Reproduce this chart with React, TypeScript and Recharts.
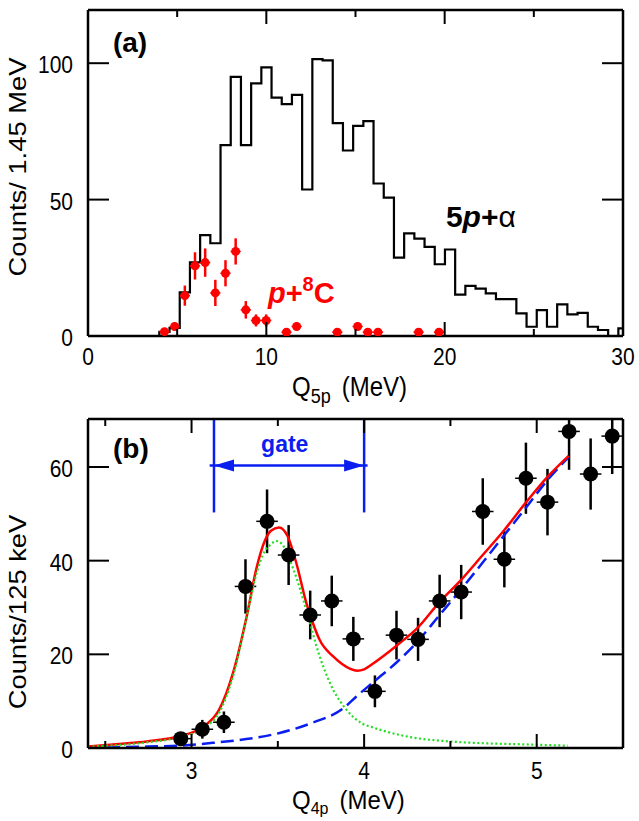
import React from 'react';
import {
  ComposedChart,
  Line,
  Scatter,
  XAxis,
  YAxis,
  ErrorBar,
  ReferenceLine,
  ReferenceDot,
} from 'recharts';

const FONT = '"Liberation Sans", Arial, Helvetica, sans-serif';
const STRETCH = 1.15;
const RED = '#ff0000';
const BLUE = '#0a1ef0';
const GREEN = '#22dd22';

// ---------- panel (a): Q5p spectrum ----------
const binStart = 4.0;
const binWidth = 0.572;
const histCounts = [
  1.5, 3, 16, 27, 37, 34, 70, 95, 70, 92.6, 98.5, 87.4, 85, 88.4, 53.7, 101.5,
  101, 78, 68, 77, 78.8, 55.9, 50.7, 28.7, 37.6, 35.7, 32.7, 26.3, 31.7, 15.2,
  18.4, 17.4, 15.6, 13.5, 13.5, 8.3, 3.4, 9.5, 3.4, 11.6, 7.9, 8.5, 3.4, 2.2, 0, 2.8,
];

const p8cX = [4.29, 4.86, 5.43, 6.0, 6.57, 7.14, 7.71, 8.28, 8.85, 9.42, 9.99, 11.13, 11.7, 13.98, 15.12, 15.69, 16.26, 18.54, 19.68];
const p8cY = [1.6, 3.5, 14.8, 25.7, 26.9, 15.8, 23.0, 31.0, 9.6, 5.7, 5.7, 1.4, 3.5, 1.4, 3.5, 1.4, 1.4, 1.4, 1.4];
const p8cErr = [1, 1.5, 3.7, 5.0, 5.2, 4.8, 4.8, 4.8, 3.2, 2.2, 2.2, 1, 1.5, 1, 1.5, 1, 1, 1, 1];

const aXTicks = [0, 5, 10, 15, 20, 25, 30];
const aXLabels = [0, 10, 20, 30];
const aYTicks = [0, 50, 100];
const aYMax = 119.5;

// ---------- panel (b): Q4p spectrum ----------
const q4pX = [2.9375, 3.0625, 3.1875, 3.3125, 3.4375, 3.5625, 3.6875, 3.8125, 3.9375, 4.0625, 4.1875, 4.3125, 4.4375, 4.5625, 4.6875, 4.8125, 4.9375, 5.0625, 5.1875, 5.3125, 5.4375];
const q4pY = [2, 4, 5.5, 34.5, 48.4, 41.2, 28.4, 31.4, 23.3, 12.1, 24.1, 23.2, 31.4, 33.3, 50.5, 40.3, 57.6, 52.5, 67.6, 58.5, 66.6];
const q4pErr = [1.4, 2, 2.3, 5.8, 6.8, 6.4, 5.2, 5.4, 4.7, 3.4, 5.2, 4.6, 5.6, 5.8, 7.1, 6.0, 7.6, 7.1, 8.2, 7.6, 8.1];
const q4pHalfBin = 0.0625;

const fitX = [2.4, 2.6, 2.74, 2.93, 3.07, 3.16, 3.24, 3.32, 3.375, 3.424, 3.46, 3.507, 3.557, 3.607, 3.665, 3.703, 3.742, 3.819, 3.87, 3.92, 3.96, 4.0, 4.05, 4.186, 4.311, 4.433, 4.562, 4.687, 4.809, 4.939, 5.06, 5.185];
const fitY = [0.3, 0.9, 1.4, 2.5, 4.6, 8.2, 16, 28.2, 38.2, 44.2, 46.4, 47.1, 45.2, 39.5, 31.0, 26.7, 23.1, 19.6, 18.0, 16.9, 16.5, 16.8, 18.0, 21.8, 25.7, 31.0, 35.9, 41.2, 46.4, 52.5, 57.8, 62.4];

const peakX = [2.4, 2.74, 2.93, 3.067, 3.164, 3.24, 3.317, 3.375, 3.424, 3.46, 3.49, 3.52, 3.59, 3.664, 3.742, 3.82, 3.897, 3.99, 4.05, 4.243, 4.495, 4.995, 5.18];
const peakY = [0.3, 1.2, 2.3, 4.2, 7.8, 15.3, 27.5, 37.1, 42, 43.5, 44.2, 43.7, 38.2, 29.6, 19.6, 12.5, 8.2, 5.2, 4.4, 2.5, 1.4, 0.7, 0.5];

const bgX = [2.4, 2.74, 2.93, 3.124, 3.317, 3.51, 3.7, 3.88, 3.955, 4.051, 4.186, 4.311, 4.433, 4.562, 4.687, 4.809, 4.939, 5.06, 5.185];
const bgY = [0, 0.3, 0.5, 1.1, 1.9, 3.2, 5.4, 8.5, 11.0, 14.0, 18.2, 22.8, 28.2, 33.9, 39.6, 45.3, 51.4, 57.1, 62.1];

const gateLo = 3.13;
const gateHi = 4.0;

const bXTicks = [2.5, 3, 3.5, 4, 4.5, 5];
const bXLabels = [3, 4, 5];
const bYTicks = [0, 20, 40, 60];
const bYMax = 70.25;

// ---------- built tables ----------
// error bars stop at the frame, as in the printed figure
const errPair = (y: number, e: number, top: number) => [Math.min(e, y), Math.min(e, top - y)];

const histData = [
  { x: 0, y: 0 },
  ...histCounts.map((c, i) => ({ x: binStart + i * binWidth, y: c })),
  { x: 30, y: histCounts[histCounts.length - 1] },
];
const p8cData = p8cX.map((x, i) => ({ x, y: p8cY[i], e: errPair(p8cY[i], p8cErr[i], aYMax), xe: binWidth / 2 }));
const q4pData = q4pX.map((x, i) => ({ x, y: q4pY[i], e: errPair(q4pY[i], q4pErr[i], bYMax), xe: q4pHalfBin }));
const fitData = fitX.map((x, i) => ({ x, y: fitY[i] }));
const peakData = peakX.map((x, i) => ({ x, y: peakY[i] }));
const bgData = bgX.map((x, i) => ({ x, y: bgY[i] }));

// ---------- ticks drawn inward ----------
const frame = { stroke: '#000', strokeWidth: 2.5 };

const StretchText = ({ x, y, anchor, size, children, fill = '#000', weight = 'normal' }: any) => (
  <text
    transform={`translate(${x},${y}) scale(1,${STRETCH})`}
    textAnchor={anchor}
    fontSize={size}
    fontFamily={FONT}
    fontWeight={weight}
    fill={fill}
  >
    {children}
  </text>
);

const bottomTick = (labels: number[], baseline: number) => (p: any) => {
  const v = p.payload.value;
  const major = labels.includes(v);
  return (
    <g>
      <line x1={p.x} x2={p.x} y1={p.y} y2={p.y - (major ? 14 : 7)} stroke="#000" strokeWidth={2} />
      {major && (
        <StretchText x={p.x} y={p.y + baseline} anchor="middle" size={21}>
          {v}
        </StretchText>
      )}
    </g>
  );
};

const topTick = (labels: number[]) => (p: any) => {
  const major = labels.includes(p.payload.value);
  return <line x1={p.x} x2={p.x} y1={p.y} y2={p.y + (major ? 14 : 7)} stroke="#000" strokeWidth={2} />;
};

const leftTick = (p: any) => (
  <g>
    <line x1={p.x} x2={p.x + 21} y1={p.y} y2={p.y} stroke="#000" strokeWidth={2} />
    <StretchText x={p.x - 15} y={p.y + 10} anchor="end" size={21}>
      {p.payload.value}
    </StretchText>
  </g>
);

const rightTick = (p: any) => (
  <line x1={p.x} x2={p.x - 21} y1={p.y} y2={p.y} stroke="#000" strokeWidth={2} />
);

// axes are 1px thick so Recharts still draws them; the margins absorb that pixel
function FrameAxes({ xDomain, yDomain, xTicks, xLabels, yTicks, labelBase }: any) {
  return [
    <XAxis
      key="xb"
      xAxisId={0}
      dataKey="x"
      type="number"
      domain={xDomain}
      allowDataOverflow
      ticks={xTicks}
      interval={0}
      height={1}
      tickSize={0}
      tickMargin={0}
      tickLine={false}
      axisLine={frame}
      tick={bottomTick(xLabels, labelBase)}
    />,
    <XAxis
      key="xt"
      xAxisId="t"
      orientation="top"
      dataKey="x"
      type="number"
      domain={xDomain}
      allowDataOverflow
      ticks={xTicks}
      interval={0}
      height={1}
      tickSize={0}
      tickMargin={0}
      tickLine={false}
      axisLine={frame}
      tick={topTick(xLabels)}
    />,
    <YAxis
      key="yl"
      yAxisId={0}
      type="number"
      domain={yDomain}
      allowDataOverflow
      ticks={yTicks}
      interval={0}
      width={1}
      tickSize={0}
      tickMargin={0}
      tickLine={false}
      axisLine={frame}
      tick={leftTick}
    />,
    <YAxis
      key="yr"
      yAxisId="r"
      orientation="right"
      type="number"
      domain={yDomain}
      allowDataOverflow
      ticks={yTicks}
      interval={0}
      width={1}
      tickSize={0}
      tickMargin={0}
      tickLine={false}
      axisLine={frame}
      tick={rightTick}
    />,
  ];
}

const textShape = (content: React.ReactNode, size: number, fill: string, anchor = 'start') => (p: any) => (
  <text x={p.cx} y={p.cy} fontSize={size} fontFamily={FONT} fontWeight="bold" fill={fill} textAnchor={anchor}>
    {content}
  </text>
);

const arrowHead = (dir: 1 | -1) => (p: any) => (
  <polygon
    points={`${p.cx},${p.cy} ${p.cx + dir * 20},${p.cy - 6} ${p.cx + dir * 20},${p.cy + 6}`}
    fill={BLUE}
  />
);

function PanelA() {
  return (
    <ComposedChart width={639} height={400} margin={{ top: 9, right: 15, bottom: 63, left: 87 }}>
      {FrameAxes({ xDomain: [0, 30], yDomain: [0, aYMax], xTicks: aXTicks, xLabels: aXLabels, yTicks: aYTicks, labelBase: 29 })}
      <Line
        data={histData}
        dataKey="y"
        type="stepAfter"
        stroke="#000"
        strokeWidth={2.2}
        dot={false}
        activeDot={false}
        isAnimationActive={false}
      />
      <Scatter
        data={p8cData}
        dataKey="y"
        fill={RED}
        isAnimationActive={false}
        shape={(p: any) => <circle cx={p.cx} cy={p.cy} r={4.5} fill={RED} />}
      >
        <ErrorBar dataKey="e" direction="y" width={0} stroke={RED} strokeWidth={2.5} />
        <ErrorBar dataKey="xe" direction="x" width={0} stroke={RED} strokeWidth={1.5} />
      </Scatter>
      <ReferenceDot x={1.4} y={104.1} r={0} shape={textShape('(a)', 28, '#000')} />
      <ReferenceDot
        x={20.07}
        y={40.1}
        r={0}
        shape={textShape(
          <>
            <tspan>5</tspan>
            <tspan fontStyle="italic">p</tspan>
            <tspan>+</tspan>
            <tspan fontWeight="normal">α</tspan>
          </>,
          30,
          '#000'
        )}
      />
      <ReferenceDot
        x={10.09}
        y={12.0}
        r={0}
        shape={textShape(
          <>
            <tspan fontStyle="italic">p</tspan>
            <tspan>+</tspan>
            <tspan fontSize={20} dy={-12}>8</tspan>
            <tspan dy={12}>C</tspan>
          </>,
          29,
          RED
        )}
      />
    </ComposedChart>
  );
}

function PanelB() {
  const yTop = 70.2;
  const arrowY = 60.3;
  return (
    <ComposedChart width={639} height={421} margin={{ top: 18, right: 15, bottom: 72, left: 87 }}>
      {FrameAxes({ xDomain: [2.4, 5.5], yDomain: [0, bYMax], xTicks: bXTicks, xLabels: bXLabels, yTicks: bYTicks, labelBase: 31 })}
      <Scatter
        data={q4pData}
        dataKey="y"
        fill="#000"
        isAnimationActive={false}
        shape={(p: any) => <circle cx={p.cx} cy={p.cy} r={7.5} fill="#000" />}
      >
        <ErrorBar dataKey="e" direction="y" width={0} stroke="#000" strokeWidth={2.5} />
        <ErrorBar dataKey="xe" direction="x" width={0} stroke="#000" strokeWidth={1.5} />
      </Scatter>
      <Line
        data={bgData}
        dataKey="y"
        type="monotone"
        stroke={BLUE}
        strokeWidth={2.5}
        strokeDasharray="13 6"
        dot={false}
        activeDot={false}
        isAnimationActive={false}
      />
      <Line
        data={fitData}
        dataKey="y"
        type="monotone"
        stroke={RED}
        strokeWidth={2.5}
        dot={false}
        activeDot={false}
        isAnimationActive={false}
      />
      <Line
        data={peakData}
        dataKey="y"
        type="monotone"
        stroke={GREEN}
        strokeWidth={2.2}
        strokeDasharray="2 2.5"
        dot={false}
        activeDot={false}
        isAnimationActive={false}
      />
      <ReferenceLine segment={[{ x: gateLo, y: yTop }, { x: gateLo, y: 50.3 }]} stroke={BLUE} strokeWidth={2.5} ifOverflow="visible" />
      <ReferenceLine segment={[{ x: gateHi, y: yTop }, { x: gateHi, y: 50.3 }]} stroke={BLUE} strokeWidth={2.5} ifOverflow="visible" />
      <ReferenceLine segment={[{ x: 3.105, y: arrowY }, { x: 4.02, y: arrowY }]} stroke={BLUE} strokeWidth={2.5} ifOverflow="visible" />
      <ReferenceDot x={gateLo} y={arrowY} r={0} shape={arrowHead(1)} />
      <ReferenceDot x={gateHi} y={arrowY} r={0} shape={arrowHead(-1)} />
      <ReferenceDot x={3.54} y={63.3} r={0} shape={textShape('gate', 23, BLUE, 'middle')} />
      <ReferenceDot x={2.545} y={61.9} r={0} shape={textShape('(b)', 28, '#000')} />
    </ComposedChart>
  );
}

function Titles() {
  return (
    <svg width={639} height={821} style={{ position: 'absolute', left: 0, top: 0, pointerEvents: 'none' }}>
      <text transform="translate(26,167) rotate(-90) scale(1.19,1)" textAnchor="middle" fontSize={23} fontFamily={FONT}>
        Counts/ 1.45 MeV
      </text>
      <text transform="translate(26,612) rotate(-90) scale(1.19,1)" textAnchor="middle" fontSize={23} fontFamily={FONT}>
        Counts/125 keV
      </text>
      <text transform={`translate(292,396) scale(1,${STRETCH})`} fontSize={24} fontFamily={FONT}>
        Q
        <tspan fontSize={18} dy={6}>5p</tspan>
        <tspan dy={-6} dx={11}>(MeV)</tspan>
      </text>
      <text transform="translate(292,809) scale(1,1.05)" fontSize={24} fontFamily={FONT}>
        Q
        <tspan fontSize={16} dy={5}>4p</tspan>
        <tspan dy={-5} dx={11}>(MeV)</tspan>
      </text>
    </svg>
  );
}

export default function App() {
  return (
    <div style={{ position: 'absolute', left: 0, top: 0, width: 639, height: 821, background: '#fff' }}>
      <div style={{ position: 'absolute', left: 0, top: 0 }}>
        <PanelA />
      </div>
      <div style={{ position: 'absolute', left: 0, top: 400 }}>
        <PanelB />
      </div>
      <Titles />
    </div>
  );
}
